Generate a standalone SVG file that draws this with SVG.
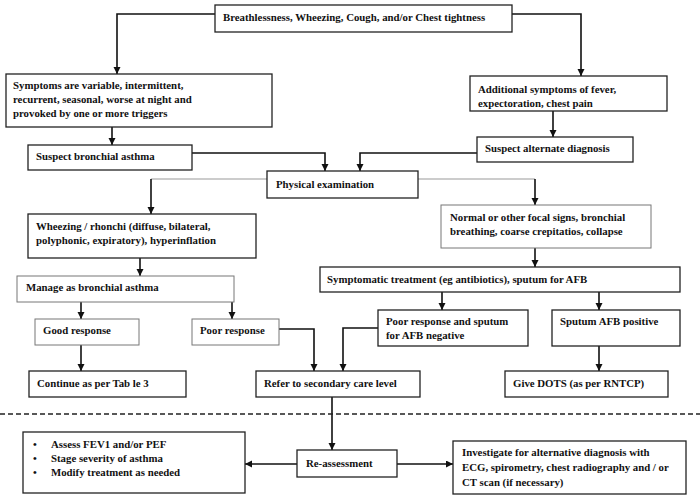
<svg xmlns="http://www.w3.org/2000/svg" width="700" height="497" viewBox="0 0 700 497">
<style>
text{font-family:"Liberation Serif","Times New Roman",serif;font-weight:bold;font-size:10.8px;fill:#111}
.b{fill:#fff;stroke:#222;stroke-width:1.3}
.g{fill:#fff;stroke:#777;stroke-width:1}
.c{fill:none;stroke:#111;stroke-width:1.6}
.cg{fill:none;stroke:#999;stroke-width:1}
.d{fill:none;stroke:#222;stroke-width:1.6;stroke-dasharray:5,3}
</style>
<defs>
<marker id="ah" markerUnits="userSpaceOnUse" markerWidth="8" markerHeight="8" refX="7" refY="3.5" orient="auto">
<path d="M0,0 L7,3.5 L0,7 z" fill="#111"/>
</marker>
</defs>
<rect width="700" height="497" fill="#fff"/>
<g id="connectors">
<path class="c" d="M215,14 H117 V74" marker-end="url(#ah)"/>
<path class="c" d="M512,14 H581 V76" marker-end="url(#ah)"/>
<path class="c" d="M112,127 V145" marker-end="url(#ah)"/>
<path class="c" d="M553,111 V137" marker-end="url(#ah)"/>
<path class="c" d="M192,153 H325 V171" marker-end="url(#ah)"/>
<path class="c" d="M477,153 H360 V171" marker-end="url(#ah)"/>
<path class="cg" d="M267,179 H151"/>
<path class="c" d="M151,179 V214" marker-end="url(#ah)"/>
<path class="cg" d="M418,179 H535"/>
<path class="c" d="M535,179 V205" marker-end="url(#ah)"/>
<path class="c" d="M140,258 V276" marker-end="url(#ah)"/>
<path class="c" d="M81,302 V319" marker-end="url(#ah)"/>
<path class="c" d="M232,302 V319" marker-end="url(#ah)"/>
<path class="c" d="M81,345 V371" marker-end="url(#ah)"/>
<path class="c" d="M279,329 H314 V371" marker-end="url(#ah)"/>
<path class="c" d="M535,248 V267" marker-end="url(#ah)"/>
<path class="c" d="M442,292 V310" marker-end="url(#ah)"/>
<path class="c" d="M599,292 V310" marker-end="url(#ah)"/>
<path class="c" d="M378,328 H343 V371" marker-end="url(#ah)"/>
<path class="c" d="M599,346 V371" marker-end="url(#ah)"/>
<path class="c" d="M332,397 V450" marker-end="url(#ah)"/>
<path class="c" d="M297,464 H245" marker-end="url(#ah)"/>
<path class="c" d="M397,464 H453" marker-end="url(#ah)"/>
<path class="d" d="M0,414 H700"/>
</g>
<g id="n-top"><rect class="b" x="215" y="5" width="297" height="27"/><text x="223" y="21">Breathlessness, Wheezing, Cough, and/or Chest tightness</text></g>
<g id="n-symptoms"><rect class="b" x="6" y="74" width="266" height="53"/><text x="13" y="89">Symptoms are variable, intermittent,</text><text x="13" y="103">recurrent, seasonal, worse at night  and</text><text x="13" y="117">provoked by one or more triggers</text></g>
<g id="n-additional"><rect class="b" x="470" y="76" width="197" height="35"/><text x="478" y="93">Additional symptoms of fever,</text><text x="478" y="107">expectoration, chest pain</text></g>
<g id="n-suspect-asthma"><rect class="b" x="28" y="145" width="164" height="25"/><text x="36" y="160">Suspect bronchial asthma</text></g>
<g id="n-suspect-alt"><rect class="b" x="477" y="137" width="156" height="25"/><text x="485" y="152">Suspect alternate diagnosis</text></g>
<g id="n-physical"><rect class="b" x="267" y="171" width="151" height="27"/><text x="276" y="188">Physical examination</text></g>
<g id="n-wheezing"><rect class="b" x="28" y="214" width="228" height="44"/><text x="36" y="230">Wheezing / rhonchi (diffuse, bilateral,</text><text x="36" y="244">polyphonic, expiratory), hyperinflation</text></g>
<g id="n-normal"><rect class="g" x="441" y="205" width="210" height="43"/><text x="450" y="221">Normal or other focal signs, bronchial</text><text x="450" y="235">breathing, coarse crepitatios, collapse</text></g>
<g id="n-manage"><rect class="g" x="17" y="276" width="217" height="26"/><text x="26" y="291">Manage as bronchial asthma</text></g>
<g id="n-symptomatic"><rect class="b" x="320" y="267" width="360" height="25"/><text x="327" y="283">Symptomatic treatment (eg antibiotics), sputum for AFB</text></g>
<g id="n-good"><rect class="g" x="35" y="319" width="104" height="26"/><text x="43" y="334">Good response</text></g>
<g id="n-poor"><rect class="g" x="192" y="319" width="87" height="26"/><text x="200" y="334">Poor response</text></g>
<g id="n-poor-afb"><rect class="b" x="378" y="310" width="150" height="36"/><text x="386" y="325">Poor response and sputum</text><text x="386" y="339">for AFB negative</text></g>
<g id="n-afb-pos"><rect class="b" x="552" y="310" width="128" height="36"/><text x="560" y="325">Sputum AFB positive</text></g>
<g id="n-continue"><rect class="b" x="29" y="371" width="157" height="26"/><text x="37" y="387">Continue as per Tab le 3</text></g>
<g id="n-refer"><rect class="b" x="256" y="371" width="164" height="26"/><text x="264" y="387">Refer to secondary care level</text></g>
<g id="n-dots"><rect class="b" x="505" y="371" width="163" height="26"/><text x="513" y="387">Give DOTS (as per RNTCP)</text></g>
<g id="n-reassess"><rect class="b" x="297" y="450" width="100" height="27"/><text x="306" y="467">Re-assessment</text></g>
<g id="n-assess"><rect class="b" x="23" y="432" width="222" height="61"/><text x="33" y="448">•</text><text x="51" y="448">Assess FEV1 and/or PEF</text><text x="33" y="462">•</text><text x="51" y="462">Stage severity of asthma</text><text x="33" y="476">•</text><text x="51" y="476">Modify treatment as needed</text></g>
<g id="n-investigate"><rect class="b" x="453" y="441" width="233" height="53"/><text x="462" y="456">Investigate for alternative diagnosis with</text><text x="462" y="471">ECG, spirometry, chest radiography and / or</text><text x="462" y="486">CT scan (if necessary)</text></g>
</svg>
